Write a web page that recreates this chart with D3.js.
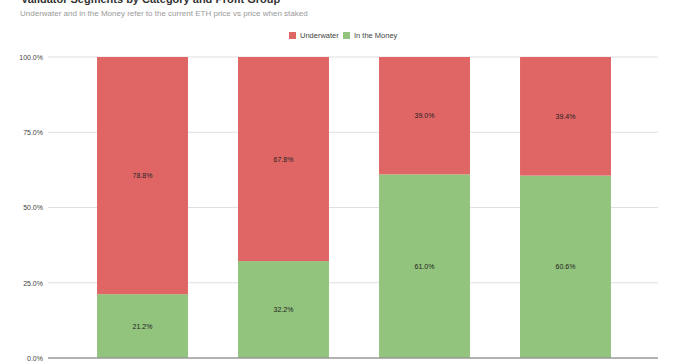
<!DOCTYPE html>
<html><head><meta charset="utf-8">
<script src="https://cdn.jsdelivr.net/npm/d3@7"></script>
<style>body{margin:0;background:#fff}svg{display:block;font-family:Arial,"Liberation Sans",sans-serif}</style>
</head><body><svg id="c" width="680" height="361"></svg>
<script>
const categories = ["A", "B", "C", "D"];
const inTheMoney = [21.2, 32.2, 61.0, 60.6];
const underwater = [78.8, 67.8, 39.0, 39.4];
const seriesNames = ["Underwater", "In the Money"];
const seriesColors = ["#e06666", "#93c47d"];
const yTicks = [0, 25, 50, 75, 100];

const svg = d3.select("#c");
const x = d3.scaleBand().domain(categories).range([72, 636]).paddingInner(0.355).paddingOuter(0.1775);
const y = d3.scaleLinear().domain([0, 100]).range([358, 57]);

svg.append("text").attr("x", 21).attr("y", 3).attr("font-size", 11).attr("font-weight", "bold").attr("fill", "#333")
  .text("Validator Segments by Category and Profit Group");
svg.append("text").attr("x", 20).attr("y", 16).attr("font-size", 8).attr("fill", "#999")
  .text("Underwater and in the Money refer to the current ETH price vs price when staked");

// grid + axis
const yAxis = d3.axisLeft(y).tickValues(yTicks).tickSize(0).tickPadding(5).tickFormat(d => d.toFixed(1) + "%");
const ag = svg.append("g").attr("transform", "translate(48,0)").call(yAxis);
ag.select(".domain").remove();
ag.selectAll("text").attr("font-size", 7).attr("fill", "#444").attr("font-family", "Arial, sans-serif");
svg.append("g").selectAll("line").data(yTicks.filter(t => t > 0)).join("line")
  .attr("x1", 48).attr("x2", 658).attr("y1", d => y(d)).attr("y2", d => y(d))
  .attr("stroke", "#e0e0e0").attr("stroke-width", 1);

const rows = categories.map((c, i) => ({cat: c, money: inTheMoney[i], under: underwater[i]}));
const stack = d3.stack().keys(["money", "under"])(rows);
const colorOf = {money: seriesColors[1], under: seriesColors[0]};

stack.forEach(layer => {
  const g = svg.append("g");
  g.selectAll("rect").data(layer).join("rect")
    .attr("x", d => x(d.data.cat)).attr("width", x.bandwidth())
    .attr("y", d => y(d[1])).attr("height", d => y(d[0]) - y(d[1]))
    .attr("fill", colorOf[layer.key]);
  g.selectAll("text").data(layer).join("text")
    .attr("x", d => x(d.data.cat) + x.bandwidth() / 2)
    .attr("y", d => (y(d[0]) + y(d[1])) / 2 + 2.5)
    .attr("text-anchor", "middle").attr("font-size", 7).attr("fill", "#222")
    .text(d => (d[1] - d[0]).toFixed(1) + "%");
});

svg.append("line").attr("x1", 48).attr("x2", 658).attr("y1", y(0)).attr("y2", y(0))
  .attr("stroke", "#999").attr("stroke-width", 1.5);

// legend
const legend = [{name: seriesNames[0], color: seriesColors[0], x: 289}, {name: seriesNames[1], color: seriesColors[1], x: 343}];
const lg = svg.append("g").selectAll("g").data(legend).join("g").attr("transform", d => `translate(${d.x},32)`);
lg.append("rect").attr("width", 7).attr("height", 7).attr("fill", d => d.color);
lg.append("text").attr("x", 11).attr("y", 6).attr("font-size", 7.5).attr("fill", "#444").text(d => d.name);
</script></body></html>
